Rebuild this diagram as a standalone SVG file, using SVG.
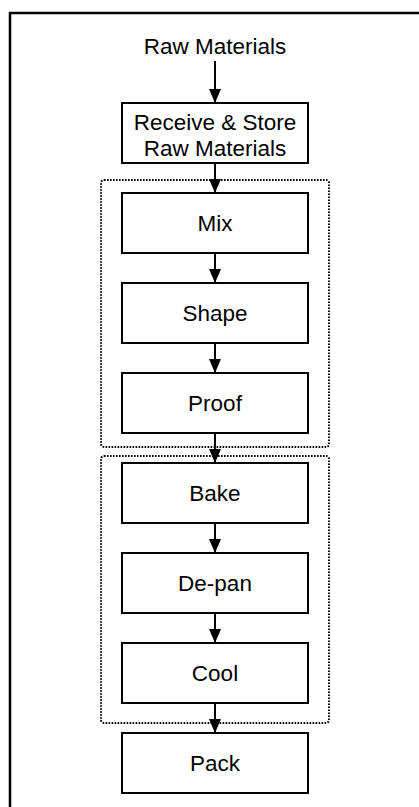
<svg xmlns="http://www.w3.org/2000/svg" width="419" height="807" viewBox="0 0 419 807">
  <style>
    .frame { fill: none; stroke: #000; stroke-width: 2.5; }
    .box { fill: #fff; stroke: #000; stroke-width: 2; }
    .grp { fill: none; stroke: #000; stroke-width: 2; stroke-dasharray: 1.6 1.4; }
    .lbl { font-family: "Liberation Sans", Arial, sans-serif; font-size: 22.5px; fill: #000; text-anchor: middle; }
    .conn { stroke: #000; stroke-width: 2; fill: none; marker-end: url(#ah); }
  </style>
  <defs>
    <marker id="ah" markerWidth="14" markerHeight="12" refX="14" refY="6" orient="auto" markerUnits="userSpaceOnUse" viewBox="0 0 14 12">
      <path d="M0,0 L14,6 L0,12 Z" fill="#000"/>
    </marker>
  </defs>
  <rect class="frame" x="10" y="13" width="430" height="820"/>
  <g id="group-prep"><rect class="grp" x="101" y="180" width="228" height="267" rx="3"/></g>
  <g id="group-bake"><rect class="grp" x="101" y="456" width="228" height="267" rx="3"/></g>
  <g id="connectors">
    <line class="conn" x1="215" y1="61" x2="215" y2="103"/>
    <line class="conn" x1="215" y1="163" x2="215" y2="193"/>
    <line class="conn" x1="215" y1="253" x2="215" y2="283"/>
    <line class="conn" x1="215" y1="343" x2="215" y2="373"/>
    <line class="conn" x1="215" y1="433" x2="215" y2="463"/>
    <line class="conn" x1="215" y1="523" x2="215" y2="553"/>
    <line class="conn" x1="215" y1="613" x2="215" y2="643"/>
    <line class="conn" x1="215" y1="703" x2="215" y2="733"/>
  </g>
  <g id="raw"><text class="lbl" x="215" y="54">Raw Materials</text></g>
  <g id="receive"><rect class="box" x="122" y="103" width="186" height="60"/><text class="lbl" x="215" y="130">Receive &amp; Store</text><text class="lbl" x="215" y="156">Raw Materials</text></g>
  <g id="mix"><rect class="box" x="122" y="193" width="186" height="60"/><text class="lbl" x="215" y="231">Mix</text></g>
  <g id="shape"><rect class="box" x="122" y="283" width="186" height="60"/><text class="lbl" x="215" y="321">Shape</text></g>
  <g id="proof"><rect class="box" x="122" y="373" width="186" height="60"/><text class="lbl" x="215" y="411">Proof</text></g>
  <g id="bake"><rect class="box" x="122" y="463" width="186" height="60"/><text class="lbl" x="215" y="501">Bake</text></g>
  <g id="depan"><rect class="box" x="122" y="553" width="186" height="60"/><text class="lbl" x="215" y="591">De-pan</text></g>
  <g id="cool"><rect class="box" x="122" y="643" width="186" height="60"/><text class="lbl" x="215" y="681">Cool</text></g>
  <g id="pack"><rect class="box" x="122" y="733" width="186" height="60"/><text class="lbl" x="215" y="771">Pack</text></g>
</svg>
